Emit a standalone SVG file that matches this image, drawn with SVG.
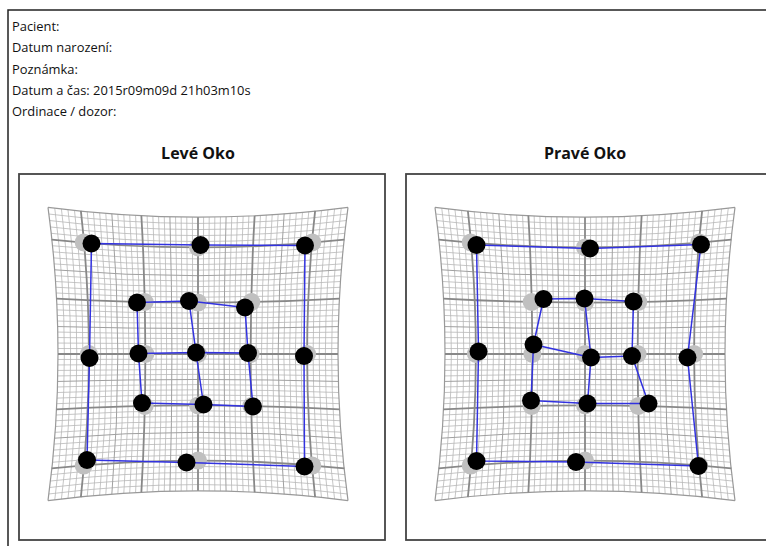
<svg xmlns="http://www.w3.org/2000/svg" xmlns:xlink="http://www.w3.org/1999/xlink" width="766" height="546" viewBox="0 0 766 546">
  <style>
    .hdr { font-family: "Open Sans", "Noto Sans", "DejaVu Sans", sans-serif; font-size: 12.9px; fill: #111; }
    .ttl { font-family: "Open Sans", "Noto Sans", "DejaVu Sans", sans-serif; font-size: 16px; font-weight: bold; fill: #111; text-anchor: middle; }
    .frame { fill: none; stroke: #222; stroke-width: 1.5; }
    .panel { fill: #fff; stroke: #444; stroke-width: 1.8; }
    .g-min { fill: none; stroke: #b8b8b8; stroke-width: 0.8; }
    .g-mid { fill: none; stroke: #a0a0a0; stroke-width: 1; }
    .g-maj { fill: none; stroke: #888; stroke-width: 1.8; }
    .g-edge { fill: none; stroke: #999; stroke-width: 1.2; }
    .ref { fill: #c0c0c0; }
    .pt { fill: #000; }
    .link { fill: none; stroke: #3232e0; stroke-width: 1.5; stroke-linejoin: round; }
  </style>
  <defs>
    <!-- distorted (pincushion) test grid, drawn around the origin; halves are mirrored -->
    <path id="v-min" class="g-min" d="M5.6 -136.82Q4.8 0 5.6 136.82M11.21 -136.86Q9.61 0 11.21 136.86M16.82 -136.94Q14.42 0 16.82 136.94M22.44 -137.05Q19.24 0 22.44 137.05M33.74 -137.36Q28.94 0 33.74 137.36M39.42 -137.57Q33.82 0 39.42 137.57M45.13 -137.8Q38.73 0 45.13 137.8M50.87 -138.07Q43.67 0 50.87 138.07M62.45 -138.69Q53.65 0 62.45 138.69M68.31 -139.05Q58.71 0 68.31 139.05M74.21 -139.44Q63.81 0 74.21 139.44M80.16 -139.87Q68.96 0 80.16 139.87M92.22 -140.81Q79.42 0 92.22 140.81M98.34 -141.32Q84.74 0 98.34 141.32M104.53 -141.87Q90.13 0 104.53 141.87M110.79 -142.45Q95.59 0 110.79 142.45M123.53 -143.7Q106.73 0 123.53 143.7M130.02 -144.37Q112.42 0 130.02 144.37M136.59 -145.08Q118.19 0 136.59 145.08M143.25 -145.81Q124.05 0 143.25 145.81"/>
    <path id="v-mid" class="g-mid" d="M28.08 -137.19Q24.08 0 28.08 137.19M86.16 -140.32Q74.16 0 86.16 140.32"/>
    <path id="v-maj" class="g-maj" d="M56.64 -138.36Q48.64 0 56.64 138.36M117.12 -143.06Q101.12 0 117.12 143.06"/>
    <path id="v-edge" class="g-edge" d="M150 -146.58Q130 0 150 146.58"/>
    <path id="h-min" class="g-min" d="M-140.02 5.47Q0 4.69 140.02 5.47M-140.06 10.95Q0 9.38 140.06 10.95M-140.14 16.43Q0 14.08 140.14 16.43M-140.26 21.93Q0 18.79 140.26 21.93M-140.58 32.97Q0 28.27 140.58 32.97M-140.78 38.52Q0 33.03 140.78 38.52M-141.02 44.1Q0 37.83 141.02 44.1M-141.3 49.7Q0 42.64 141.3 49.7M-141.94 61.03Q0 52.41 141.94 61.03M-142.3 66.75Q0 57.34 142.3 66.75M-142.7 72.51Q0 62.32 142.7 72.51M-143.14 78.33Q0 67.35 143.14 78.33M-144.1 90.12Q0 77.58 144.1 90.12M-144.62 96.1Q0 82.77 144.62 96.1M-145.18 102.15Q0 88.04 145.18 102.15M-145.78 108.26Q0 93.36 145.78 108.26M-147.06 120.71Q0 104.25 147.06 120.71M-147.74 127.05Q0 109.8 147.74 127.05M-148.46 133.47Q0 115.44 148.46 133.47M-149.22 139.98Q0 121.16 149.22 139.98"/>
    <path id="h-mid" class="g-mid" d="M-140.4 27.44Q0 23.52 140.4 27.44M-143.6 84.19Q0 72.43 143.6 84.19"/>
    <path id="h-maj" class="g-maj" d="M-141.6 55.35Q0 47.51 141.6 55.35M-146.4 114.45Q0 98.77 146.4 114.45"/>
    <path id="h-edge" class="g-edge" d="M-150 146.58Q0 126.98 150 146.58"/>
    <g id="mesh">
      <use href="#v-min"/><use href="#v-min" transform="scale(-1,1)"/>
      <use href="#h-min"/><use href="#h-min" transform="scale(1,-1)"/>
      <use href="#v-mid"/><use href="#v-mid" transform="scale(-1,1)"/>
      <use href="#h-mid"/><use href="#h-mid" transform="scale(1,-1)"/>
      <use href="#v-edge"/><use href="#v-edge" transform="scale(-1,1)"/>
      <use href="#h-edge"/><use href="#h-edge" transform="scale(1,-1)"/>
      <use href="#v-maj"/><use href="#v-maj" transform="scale(-1,1)"/>
      <use href="#h-maj"/><use href="#h-maj" transform="scale(1,-1)"/>
      <path class="g-maj" d="M0 -136.8V136.8M-140 0H140"/>
    </g>
    <!-- nominal target positions (grey) -->
    <g id="targets" class="ref">
      <circle cx="-114.3" cy="-111.6" r="9"/><circle cx="0" cy="-106.6" r="9"/><circle cx="114.3" cy="-111.6" r="9"/>
      <circle cx="-109.1" cy="0" r="9"/><circle cx="109.1" cy="0" r="9"/>
      <circle cx="-114.3" cy="111.6" r="9"/><circle cx="0" cy="106.6" r="9"/><circle cx="114.3" cy="111.6" r="9"/>
      <circle cx="-53.3" cy="-52" r="9"/><circle cx="0" cy="-51.4" r="9"/><circle cx="53.3" cy="-52" r="9"/>
      <circle cx="-52.6" cy="0" r="9"/><circle cx="0" cy="0" r="9"/><circle cx="52.6" cy="0" r="9"/>
      <circle cx="-53.3" cy="52" r="9"/><circle cx="0" cy="51.4" r="9"/><circle cx="53.3" cy="52" r="9"/>
    </g>
  </defs>

  <rect class="frame" x="8" y="10" width="780" height="560"/>

  <g id="header">
    <text class="hdr" x="12" y="31">Pacient:</text>
    <text class="hdr" x="12" y="52">Datum narození:</text>
    <text class="hdr" x="12" y="74">Poznámka:</text>
    <text class="hdr" x="12" y="95">Datum a čas: 2015r09m09d 21h03m10s</text>
    <text class="hdr" x="12" y="116">Ordinace / dozor:</text>
  </g>

  <!-- left eye -->
  <g id="left-eye">
    <text class="ttl" x="198" y="159">Levé Oko</text>
    <rect class="panel" x="19" y="174" width="366" height="366"/>
    <use href="#mesh" transform="translate(198,354)"/>
    <use href="#targets" transform="translate(198,354)"/>
  </g>

  <!-- right eye -->
  <g id="right-eye">
    <text class="ttl" x="585" y="159">Pravé Oko</text>
    <rect class="panel" x="406" y="174" width="366" height="366"/>
    <use href="#mesh" transform="translate(585,354)"/>
    <use href="#targets" transform="translate(585,354)"/>
  </g>

  <g id="connectors" class="link">
    <polygon points="91.5,243.5 200.5,245 305,245.5 304,356 304.5,466.5 186.5,462.5 87,460 89.5,358"/>
    <polyline points="137,302.5 189,301 245,307.5"/>
    <polyline points="138.5,353.5 196,352.5 248,353"/>
    <polyline points="142,403 203.5,404.5 253,406.5"/>
    <polyline points="137,302.5 138.5,353.5 142,403"/>
    <polyline points="189,301 196,352.5 203.5,404.5"/>
    <polyline points="245,307.5 248,353 253,406.5"/>

    <polygon points="476.5,245 590,248.5 701,244.5 687.5,357.5 698.5,466 576,462 476.5,461 478.5,351.5"/>
    <polyline points="543.5,299 584.5,298.5 633.5,301.5"/>
    <polyline points="533.5,344.5 591,357.5 632,356"/>
    <polyline points="531,400.5 587.5,403.5 648.5,403.5"/>
    <polyline points="543.5,299 533.5,344.5 531,400.5"/>
    <polyline points="584.5,298.5 591,357.5 587.5,403.5"/>
    <polyline points="633.5,301.5 632,356 648.5,403.5"/>
  </g>

  <g id="left-points" class="pt">
    <g id="L-TL"><circle cx="91.5" cy="243.5" r="9"/></g>
    <g id="L-TC"><circle cx="200.5" cy="245" r="9"/></g>
    <g id="L-TR"><circle cx="305" cy="245.5" r="9"/></g>
    <g id="L-ML"><circle cx="89.5" cy="358" r="9"/></g>
    <g id="L-MR"><circle cx="304" cy="356" r="9"/></g>
    <g id="L-BL"><circle cx="87" cy="460" r="9"/></g>
    <g id="L-BC"><circle cx="186.5" cy="462.5" r="9"/></g>
    <g id="L-BR"><circle cx="304.5" cy="466.5" r="9"/></g>
    <g id="L-i11"><circle cx="137" cy="302.5" r="9"/></g>
    <g id="L-i12"><circle cx="189" cy="301" r="9"/></g>
    <g id="L-i13"><circle cx="245" cy="307.5" r="9"/></g>
    <g id="L-i21"><circle cx="138.5" cy="353.5" r="9"/></g>
    <g id="L-i22"><circle cx="196" cy="352.5" r="9"/></g>
    <g id="L-i23"><circle cx="248" cy="353" r="9"/></g>
    <g id="L-i31"><circle cx="142" cy="403" r="9"/></g>
    <g id="L-i32"><circle cx="203.5" cy="404.5" r="9"/></g>
    <g id="L-i33"><circle cx="253" cy="406.5" r="9"/></g>
  </g>

  <g id="right-points" class="pt">
    <g id="R-TL"><circle cx="476.5" cy="245" r="9"/></g>
    <g id="R-TC"><circle cx="590" cy="248.5" r="9"/></g>
    <g id="R-TR"><circle cx="701" cy="244.5" r="9"/></g>
    <g id="R-ML"><circle cx="478.5" cy="351.5" r="9"/></g>
    <g id="R-MR"><circle cx="687.5" cy="357.5" r="9"/></g>
    <g id="R-BL"><circle cx="476.5" cy="461" r="9"/></g>
    <g id="R-BC"><circle cx="576" cy="462" r="9"/></g>
    <g id="R-BR"><circle cx="698.5" cy="466" r="9"/></g>
    <g id="R-i11"><circle cx="543.5" cy="299" r="9"/></g>
    <g id="R-i12"><circle cx="584.5" cy="298.5" r="9"/></g>
    <g id="R-i13"><circle cx="633.5" cy="301.5" r="9"/></g>
    <g id="R-i21"><circle cx="533.5" cy="344.5" r="9"/></g>
    <g id="R-i22"><circle cx="591" cy="357.5" r="9"/></g>
    <g id="R-i23"><circle cx="632" cy="356" r="9"/></g>
    <g id="R-i31"><circle cx="531" cy="400.5" r="9"/></g>
    <g id="R-i32"><circle cx="587.5" cy="403.5" r="9"/></g>
    <g id="R-i33"><circle cx="648.5" cy="403.5" r="9"/></g>
  </g>
</svg>
